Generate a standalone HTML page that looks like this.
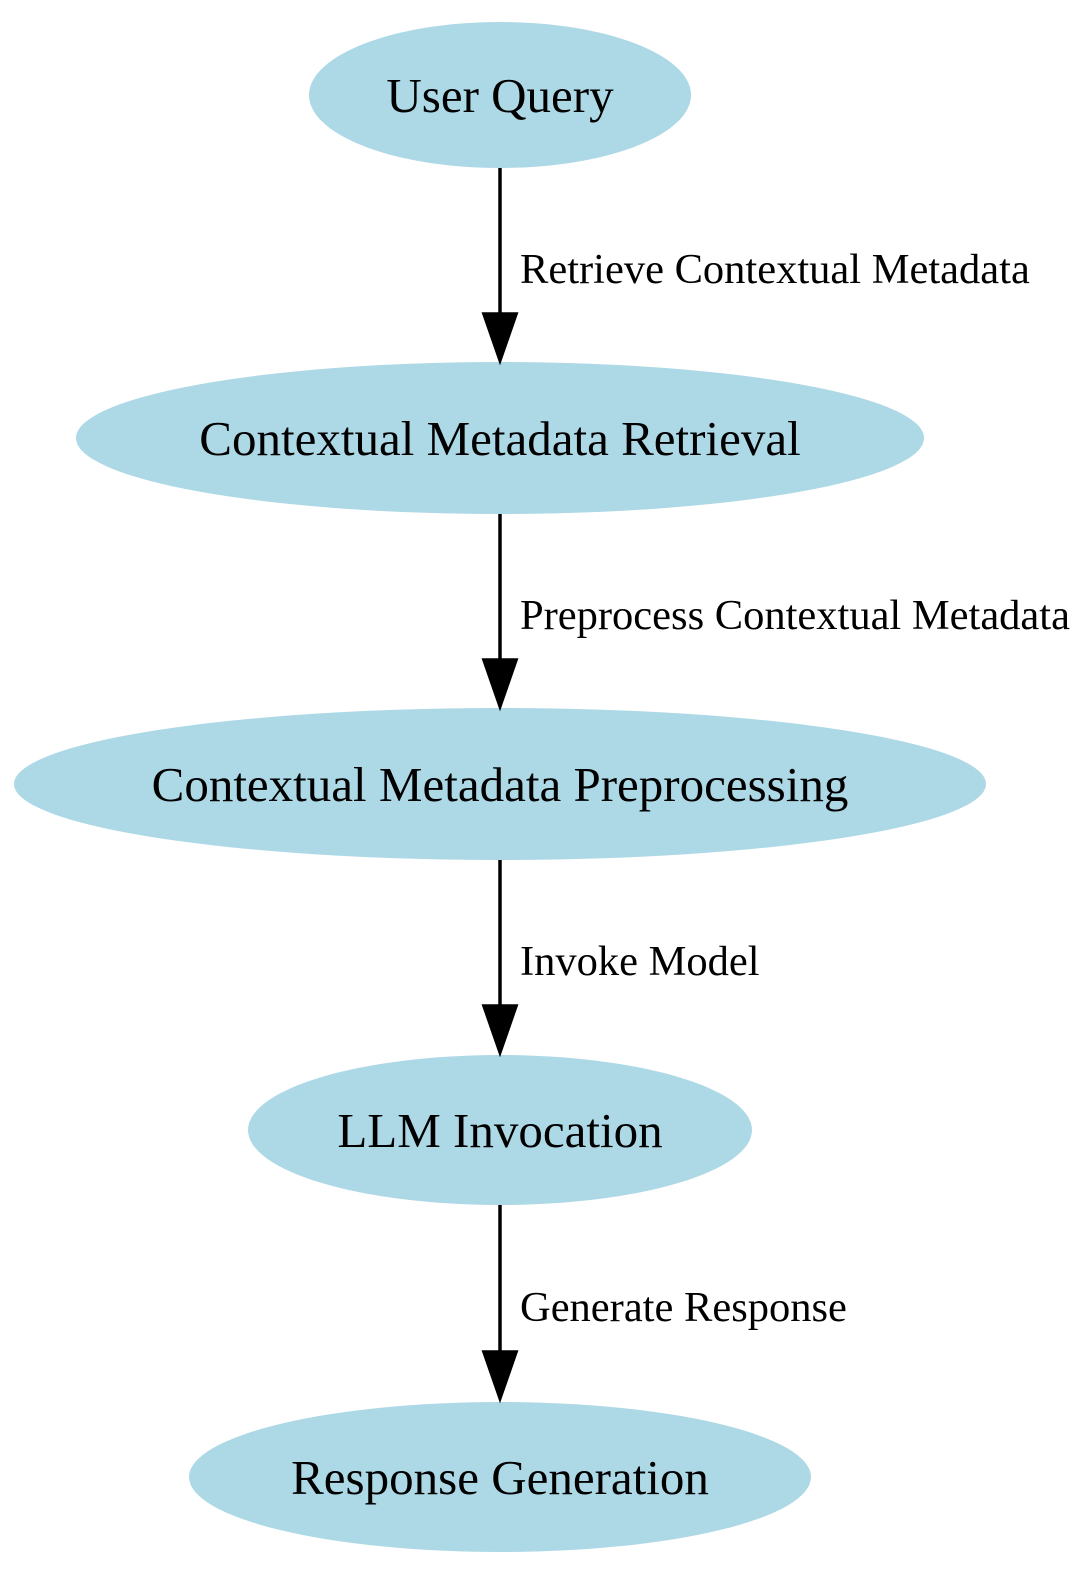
<!DOCTYPE html>
<html><head><meta charset="utf-8"><style>
html,body{margin:0;padding:0;background:#fff;}
svg{display:block;}
.n{font-family:"Liberation Serif",serif;font-size:49px;fill:#000;text-anchor:middle;}
.l{font-family:"Liberation Serif",serif;font-size:42.5px;fill:#000;}
</style></head><body>
<svg width="1085" height="1571" viewBox="0 0 1085 1571" xmlns="http://www.w3.org/2000/svg">
<g fill="#add8e6">
<ellipse cx="500" cy="95" rx="191" ry="73"/>
<ellipse cx="500" cy="438" rx="424" ry="76"/>
<ellipse cx="500" cy="784" rx="486" ry="76"/>
<ellipse cx="500" cy="1130" rx="252" ry="75"/>
<ellipse cx="500" cy="1477" rx="311" ry="75"/>
</g>
<text class="n" x="500" y="112">User Query</text>
<text class="n" x="500" y="455">Contextual Metadata Retrieval</text>
<text class="n" x="500" y="801">Contextual Metadata Preprocessing</text>
<text class="n" x="500" y="1147">LLM Invocation</text>
<text class="n" x="500" y="1494">Response Generation</text>
<g stroke="#000" stroke-width="3.5" fill="#000">
<line x1="500" y1="168" x2="500" y2="316"/>
<polygon points="484,314 516,314 500,360"/>
<line x1="500" y1="514" x2="500" y2="662"/>
<polygon points="484,660 516,660 500,706"/>
<line x1="500" y1="860" x2="500" y2="1008"/>
<polygon points="484,1006 516,1006 500,1052"/>
<line x1="500" y1="1205" x2="500" y2="1354"/>
<polygon points="484,1352 516,1352 500,1398"/>
</g>
<text class="l" x="520" y="283">Retrieve Contextual Metadata</text>
<text class="l" x="520" y="629">Preprocess Contextual Metadata</text>
<text class="l" x="520" y="975">Invoke Model</text>
<text class="l" x="520" y="1321">Generate Response</text>
</svg>
</body></html>
